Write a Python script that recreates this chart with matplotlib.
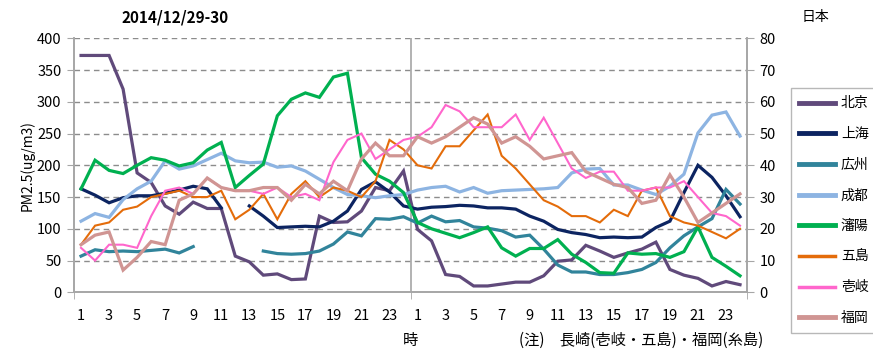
import numpy as np
from matplotlib import pyplot as plt
from matplotlib.lines import Line2D

plt.rcParams['font.family'] = ['Noto Sans CJK JP', 'DejaVu Sans']

nan = np.nan

# hourly PM2.5, 29th (1-24) followed by 30th (1-24)
hour_labels = [str(h) for h in range(1, 24, 2)] * 2

# China (left axis, ug/m3)
beijing = [373, 373, 373, 320, 188, 173, 136, 123, 142, 132, 132, 57,
           48, 27, 29, 20, 21, 120, 110, 111, 128, 165, 160, 191,
           99, 81, 28, 25, 10, 10, 13, 16, 16, 26, 49, 51,
           74, 65, 55, 62, 68, 79, 36, 27, 22, 10, 17, 12]
shanghai = [163, 153, 141, 149, 152, 152, 156, 161, 167, 163, 133, nan,
            136, 120, 102, 103, 104, 103, 112, 128, 162, 174, 158, 136,
            131, 134, 135, 137, 136, 133, 133, 131, 120, 112, 99, 94,
            91, 86, 87, 86, 87, 102, 112, 157, 200, 181, 152, 119]
guangzhou = [57, 67, 64, 65, 64, 66, 68, 62, 72, nan, nan, nan,
             nan, 65, 61, 60, 61, 65, 76, 95, 89, 116, 115, 119,
             109, 120, 111, 113, 103, 101, 97, 87, 90, 68, 43, 32,
             32, 28, 28, 31, 36, 47, 70, 89, 103, 116, 162, 139]
chengdu = [112, 124, 118, 146, 163, 175, 207, 194, 199, 209, 219, 207,
           204, 205, 197, 199, 191, 178, 165, 154, 152, 149, 152, 154,
           161, 165, 167, 158, 165, 156, 160, 161, 162, 163, 165, 188,
           194, 195, 169, 169, 161, 154, 167, 186, 251, 279, 284, 246]
shenyang = [163, 208, 192, 187, 200, 212, 208, 199, 204, 224, 236, 165,
            184, 202, 278, 304, 314, 307, 339, 345, 212, 186, 175, 157,
            110, 100, 93, 86, 94, 103, 70, 57, 69, 69, 83, 60,
            47, 31, 30, 62, 60, 61, 55, 64, 103, 55, 41, 26]

# Japan (right axis, ug/m3)
goto = [15, 21, 22, 26, 27, 30, 31, 32, 30, 30, 32, 23,
        26, 31, 23, 31, 35, 30, 33, 32, 30, 35, 48, 45,
        40, 39, 46, 46, 51, 56, 43, 39, 34, 29, 27, 24,
        24, 22, 26, 24, 32, 33, 24, 22, 21, 19, 17, 20]
iki = [14, 10, 15, 15, 14, 24, 32, 33, 31, 36, 33, 32,
       32, 31, 33, 30, 31, 29, 41, 48, 50, 42, 45, 48,
       49, 52, 59, 57, 52, 52, 52, 56, 48, 55, 47, 39,
       36, 38, 38, 32, 32, 33, 33, 35, 30, 25, 24, 21]
fukuoka = [15, 18, 19, 7, 11, 16, 15, 29, 31, 36, 33, 32,
           32, 33, 33, 29, 34, 31, 35, 32, 42, 47, 43, 43,
           49, 47, 49, 52, 55, 53, 47, 49, 46, 42, 43, 44,
           38, 36, 34, 33, 28, 29, 37, 30, 22, 25, 28, 31]

china = [("北京", beijing, "#604A7B", 2.3),
         ("上海", shanghai, "#0C2461", 2.3),
         ("広州", guangzhou, "#31849B", 2.3),
         ("成都", chengdu, "#8DB4E2", 2.3),
         ("瀋陽", shenyang, "#00B050", 2.3)]
japan = [("五島", goto, "#E46C0A", 1.5),
         ("壱岐", iki, "#FF66CC", 1.5),
         ("福岡", fukuoka, "#D09593", 2.3)]

grid_color = "#8C8C8C"
x = np.arange(48)

fig = plt.figure(figsize=(8.73, 3.55), dpi=100)
ax = fig.add_axes([0.0848, 0.1766, 0.7709, 0.7155])
ax2 = ax.twinx()

for name, vals, color, lw in china:
    ax.plot(x, vals, color=color, lw=lw, solid_joinstyle="miter")
for name, vals, color, lw in japan:
    ax2.plot(x, vals, color=color, lw=lw, solid_joinstyle="miter")

ax.set_xlim(-0.5, 47.5)
ax.set_ylim(0, 400)
ax2.set_ylim(0, 80)
ax.set_yticks(np.arange(0, 401, 50))
ax2.set_yticks(np.arange(0, 81, 10))

for y in np.arange(50, 401, 50):
    ax.axhline(y, color=grid_color, lw=1, ls=(0, (4, 3)), zorder=0)
ax.axvline(23.5, color="#A6A6A6", lw=1.2, zorder=0)

ax.set_xticks(x[::2])
ax.set_xticklabels(hour_labels)
ax.set_xticks([-0.5, 23.5, 47.5], minor=True)
ax.tick_params(axis="x", which="major", length=0, pad=12, labelsize=10.5)
ax.tick_params(axis="x", which="minor", length=5, color="#A6A6A6")
ax.tick_params(axis="y", length=5, color="#A6A6A6", labelsize=10.5, pad=4)
ax2.tick_params(axis="y", length=5, color="#A6A6A6", labelsize=10.5, pad=4)

for a in (ax, ax2):
    for side in ("left", "right", "bottom"):
        a.spines[side].set_color("#A6A6A6")
        a.spines[side].set_linewidth(1.2)
    a.spines["top"].set_visible(False)

ax.set_ylabel("PM2.5(ug/m3)", fontsize=10, labelpad=2)

fig.text(0.2, 0.952, "2014/12/29-30", fontsize=11, fontweight="bold",
         ha="center", va="center")
fig.text(0.934, 0.952, "日本", fontsize=10, ha="center", va="center")
fig.text(0.47, 0.04, "時", fontsize=11, ha="center", va="center")
fig.text(0.594, 0.04, "(注)　長崎(壱岐・五島)・福岡(糸島)", fontsize=11,
         ha="left", va="center")

handles = [Line2D([], [], color=c, lw=3.5 if lw > 2 else 2.5)
           for _, _, c, lw in china + japan]
labels = [n for n, _, _, _ in china + japan]
leg = fig.legend(handles, labels, loc="upper left",
                 bbox_to_anchor=(0.906, 0.752), frameon=True, fancybox=False,
                 fontsize=10, handlelength=2.6, handletextpad=0.4,
                 labelspacing=1.2, borderpad=0.6, borderaxespad=0)
leg.get_frame().set_edgecolor("#A6A6A6")
leg.get_frame().set_linewidth(1)

fig.savefig("out.png", dpi=100)
